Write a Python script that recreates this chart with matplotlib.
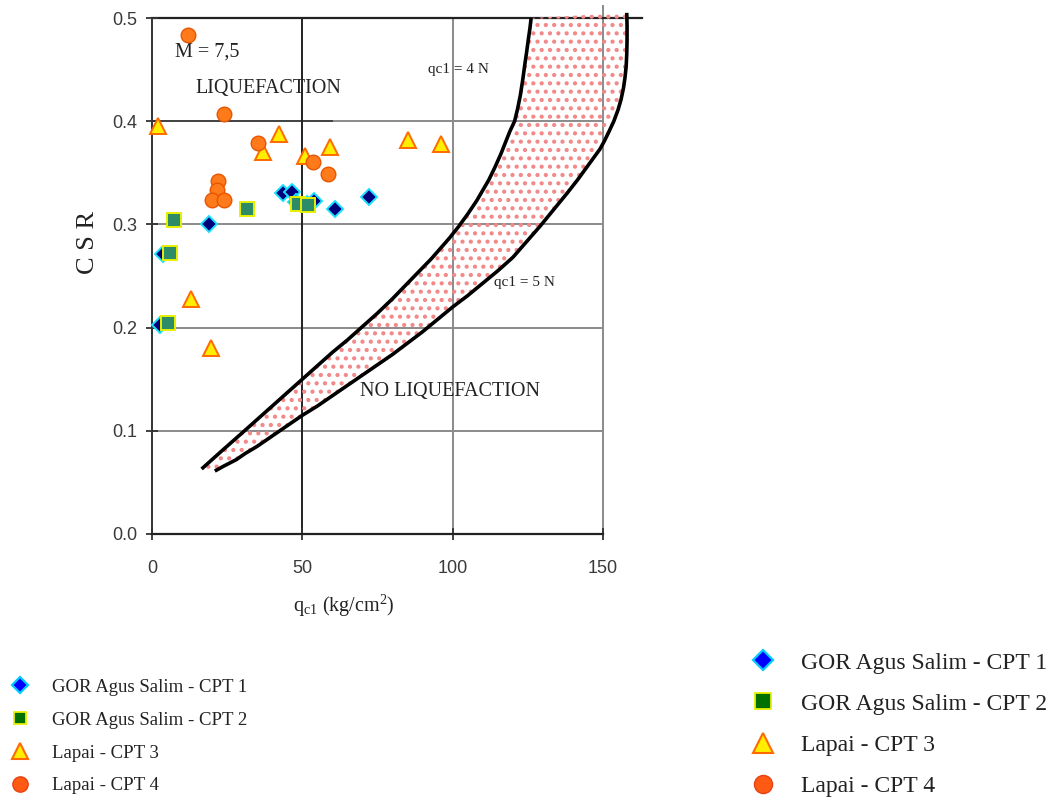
import matplotlib
matplotlib.use("Agg")
import matplotlib.pyplot as plt
from matplotlib.lines import Line2D

plt.rcParams['font.family'] = ['Liberation Serif', 'DejaVu Serif']
plt.rcParams['mathtext.fontset'] = 'custom'
plt.rcParams['mathtext.rm'] = 'Liberation Serif'
plt.rcParams['mathtext.it'] = 'Liberation Serif:italic'
plt.rcParams['hatch.linewidth'] = 1.8

# ---- data ----
cpt1_q = [43.6, 46.4, 53.8, 60.8, 72.2, 19.0, 3.8, 2.7, 48.0, 51.5]
cpt1_csr = [0.330, 0.331, 0.323, 0.315, 0.327, 0.300, 0.271, 0.203, 0.322, 0.320]

cpt2_q = [7.3, 31.7, 48.6, 51.9, 6.0, 5.4]
cpt2_csr = [0.304, 0.315, 0.320, 0.319, 0.272, 0.204]

cpt3_q = [1.9, 42.3, 37.0, 51.0, 59.1, 85.2, 96.2, 12.9, 19.6]
cpt3_csr = [0.395, 0.388, 0.370, 0.366, 0.375, 0.382, 0.378, 0.228, 0.180]

cpt4_q = [11.9, 23.9, 35.3, 53.6, 58.6, 22.0, 21.5, 20.1, 24.0]
cpt4_csr = [0.484, 0.407, 0.379, 0.360, 0.349, 0.342, 0.333, 0.324, 0.324]

n4_q = [16.5, 23, 30, 35, 40, 45, 50, 55, 60, 65, 70, 75, 80, 85, 90, 93, 96, 99, 102, 105, 108,
        110, 112, 114, 116, 117.5, 119, 120.6, 121.6, 122.5, 123.3, 124, 124.6, 125.2, 125.7, 126.1]
n4_csr = [0.063, 0.080, 0.098, 0.111, 0.124, 0.137, 0.150, 0.163, 0.176, 0.188, 0.201, 0.214, 0.228,
          0.243, 0.258, 0.267, 0.277, 0.287, 0.298, 0.310, 0.323, 0.333, 0.343, 0.355, 0.368, 0.379,
          0.390, 0.400, 0.412, 0.425, 0.440, 0.455, 0.467, 0.480, 0.490, 0.500]

n5_q = [20.9, 24, 28, 31, 35, 38, 42, 46, 50, 55, 60, 65, 70, 75, 80, 85, 90, 95, 100, 105, 110,
        115, 120, 124.5, 129, 133.5, 138, 141.5, 145, 147, 149, 150.5, 152, 153.6, 155, 156, 156.8,
        157.3, 157.7, 157.9, 158.0, 158.0, 157.9]
n5_csr = [0.061, 0.066, 0.072, 0.078, 0.085, 0.091, 0.099, 0.107, 0.115, 0.124, 0.134, 0.144, 0.154,
          0.164, 0.174, 0.185, 0.196, 0.208, 0.220, 0.231, 0.243, 0.255, 0.268, 0.283, 0.298, 0.314,
          0.330, 0.343, 0.357, 0.365, 0.373, 0.381, 0.390, 0.400, 0.411, 0.421, 0.432, 0.442, 0.453,
          0.465, 0.478, 0.492, 0.505]

labels = ['GOR Agus Salim - CPT 1', 'GOR Agus Salim - CPT 2', 'Lapai - CPT 3', 'Lapai - CPT 4']
x_ticks = [0, 50, 100, 150]
y_ticks = [0.0, 0.1, 0.2, 0.3, 0.4, 0.5]

# ---- figure ----
fig = plt.figure(figsize=(10.62, 8.05), dpi=100)
ax = fig.add_axes([152 / 1062, 1 - 534 / 805, (603 - 152) / 1062, (534 - 18) / 805])
ax.set_xlim(0, 150)
ax.set_ylim(0, 0.5)

grey = '#8a8a8a'
for yv in y_ticks[1:-1]:
    ax.plot([0, 150], [yv, yv], color=grey, lw=1.4, zorder=1)
ax.plot([0, 60], [0.4, 0.4], color='#444444', lw=1.4, zorder=1)
ax.plot([100, 100], [0, 0.5], color=grey, lw=1.4, zorder=1)
ax.plot([50, 50], [0, 0.5], color='#222222', lw=1.4, zorder=1)
ax.plot([150, 150], [0, 0.512], color=grey, lw=1.4, zorder=1, clip_on=False)
ax.plot([0, 163], [0.5, 0.5], color='#222222', lw=1.6, zorder=1, clip_on=False)

for s in ['top', 'right']:
    ax.spines[s].set_visible(False)
ax.spines['left'].set_color('#333333')
ax.spines['bottom'].set_color('#222222')
ax.spines['left'].set_linewidth(1.4)
ax.spines['bottom'].set_linewidth(1.6)

# hatched zone between curves
poly_q = n4_q + n5_q[::-1]
poly_c = n4_csr + n5_csr[::-1]
ax.fill(poly_q, poly_c, facecolor='none', edgecolor='#f28888', hatch='..', lw=0, zorder=2, clip_on=False)
ax.plot(n4_q, n4_csr, color='black', lw=2.6, zorder=3, clip_on=False, solid_capstyle='butt')
ax.plot(n5_q, n5_csr, color='black', lw=2.6, zorder=3, clip_on=False, solid_capstyle='butt')

# series
ax.plot(cpt1_q, cpt1_csr, 'D', ms=8, mfc='#00007a', mec='#19e0ff', mew=1.4, zorder=4, clip_on=False)
ax.plot(cpt2_q, cpt2_csr, 's', ms=9.5, mfc='#2e8b68', mec='#e8f000', mew=1.4, zorder=5, clip_on=False)
ax.plot(cpt3_q, cpt3_csr, '^', ms=11.5, mfc='#ffee00', mec='#ff6a00', mew=1.4, zorder=4, clip_on=False)
ax.plot(cpt4_q, cpt4_csr, 'o', ms=10.5, mfc='#ff7a1a', mec='#e85500', mew=1.0, zorder=4, clip_on=False)

# ticks
ax.set_xticks(x_ticks)
ax.set_yticks(y_ticks)
ax.set_yticklabels([f'{v:.1f}' for v in y_ticks])
ax.tick_params(axis='both', direction='inout', length=9, width=1.3, colors='#333333',
               labelsize=13, labelcolor='#3a3a3a')
for lab in ax.get_xticklabels() + ax.get_yticklabels():
    lab.set_family('Liberation Sans')
ax.tick_params(axis='x', pad=14)
ax.tick_params(axis='y', pad=6)

# text annotations
ax.text(7.6, 0.467, 'M = 7,5', fontsize=14.5, ha='left', va='center', color='#222222')
ax.text(14.6, 0.432, 'LIQUEFACTION', fontsize=14.5, ha='left', va='center', color='#222222')
ax.text(91.7, 0.450, 'qc1 = 4 N', fontsize=11, ha='left', va='center', color='#222222')
ax.text(113.6, 0.244, 'qc1 = 5 N', fontsize=11, ha='left', va='center', color='#222222')
ax.text(69.1, 0.138, 'NO LIQUEFACTION', fontsize=14.5, ha='left', va='center', color='#222222')

fig.text(88 / 1062, 1 - 242 / 805, 'C S R', rotation=90, fontsize=19, ha='center', va='center', color='#222222')
fig.text(344 / 1062, 1 - 606 / 805, r'q$_{\rm c1}$ (kg/cm$^2$)', fontsize=14.5, ha='center', va='center', color='#222222')

# legends
def handles(big):
    return [
        Line2D([], [], ls='none', marker='D', ms=10 if big else 8, mfc='#0000ff', mec='#00ccff', mew=1.6),
        Line2D([], [], ls='none', marker='s', ms=11 if big else 9, mfc='#007000', mec='#e8f000', mew=1.3),
        Line2D([], [], ls='none', marker='^', ms=14 if big else 12, mfc='#ffee00', mec='#ff6a00', mew=1.5),
        Line2D([], [], ls='none', marker='o', ms=13 if big else 11, mfc='#ff5a14', mec='#e84010', mew=1.0),
    ]

leg1 = fig.legend(handles(False), labels, loc='upper left', bbox_to_anchor=(0.003, 1 - 673 / 805),
                  frameon=False, fontsize=13.5, labelspacing=0.84, handletextpad=1.1,
                  handlelength=1.2, borderaxespad=0, borderpad=0.3)
for t in leg1.get_texts():
    t.set_color('#222222')
leg2 = fig.legend(handles(True), labels, loc='upper left', bbox_to_anchor=(742 / 1062, 1 - 645 / 805),
                  frameon=False, fontsize=17, labelspacing=0.83, handletextpad=1.0,
                  handlelength=1.2, borderaxespad=0, borderpad=0.3)
for t in leg2.get_texts():
    t.set_color('#222222')

fig.savefig('out.png', dpi=100, facecolor='white')
